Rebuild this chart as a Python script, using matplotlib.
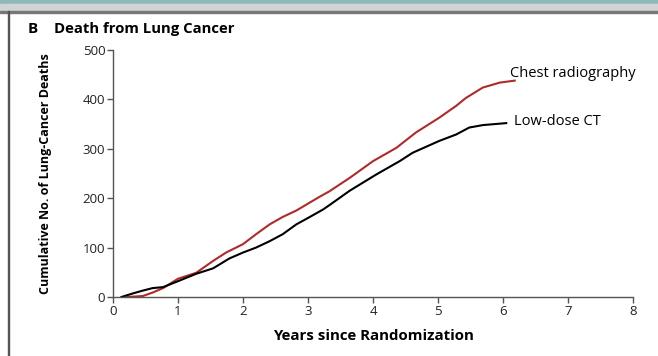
import matplotlib
matplotlib.use("Agg")
import matplotlib.pyplot as plt
from matplotlib.patches import Rectangle

# data
years_ct = [0.13, 0.30, 0.46, 0.61, 0.77, 1.00, 1.28, 1.54, 1.79, 2.00, 2.20, 2.41,
            2.61, 2.82, 3.00, 3.23, 3.33, 3.64, 4.05, 4.41, 4.61, 5.02, 5.28, 5.48,
            5.69, 6.05]
deaths_ct = [0, 7, 13, 18, 20, 32, 47, 58, 78, 90, 100, 113,
             127, 147, 160, 177, 186, 215, 248, 275, 292, 316, 329, 343,
             348, 352]

years_cxr = [0.22, 0.46, 0.61, 0.77, 1.00, 1.28, 1.54, 1.74, 2.00, 2.20, 2.41, 2.61,
             2.82, 3.00, 3.18, 3.33, 3.64, 4.00, 4.36, 4.66, 5.02, 5.28, 5.43, 5.69,
             5.95, 6.18]
deaths_cxr = [0, 2, 9, 18, 37, 49, 73, 90, 107, 127, 147, 162,
              175, 189, 203, 214, 241, 275, 302, 333, 363, 387, 403, 424,
              434, 438]

xticks = [0, 1, 2, 3, 4, 5, 6, 7, 8]
yticks = [0, 100, 200, 300, 400, 500]

plt.rcParams['font.family'] = ['Open Sans', 'DejaVu Sans']

fig = plt.figure(figsize=(6.58, 3.56), dpi=100)

# slide frame bits
fig.patches.append(Rectangle((0, 1 - 4/356), 1, 4/356, transform=fig.transFigure,
                             color="#8fb9b9", zorder=0))
fig.patches.append(Rectangle((0, 1 - 11/356), 1, 7/356, transform=fig.transFigure,
                             color="#d0d4d4", zorder=0))
fig.patches.append(Rectangle((0, 1 - 13/356), 1, 2/356, transform=fig.transFigure,
                             color="#777777", zorder=0))
fig.patches.append(Rectangle((7.5/658, 0), 1.5/658, 1 - 11/356, transform=fig.transFigure,
                             color="#555555", zorder=0))

ax = fig.add_axes([113/658, 59/356, 520/658, 247/356])

ax.plot(years_cxr, deaths_cxr, color="#b02a2a", lw=1.5)
ax.plot(years_ct, deaths_ct, color="black", lw=1.5)

ax.set_xlim(0, 8)
ax.set_ylim(0, 500)
ax.set_xticks(xticks)
ax.set_yticks(yticks)
for s in ["top", "right"]:
    ax.spines[s].set_visible(False)
for s in ["left", "bottom"]:
    ax.spines[s].set_color("#555555")
    ax.spines[s].set_linewidth(1.0)
ax.tick_params(colors="#555555", labelcolor="#222222", labelsize=9.5,
               length=4, width=1.0, pad=1.5)

ax.text(6.1, 452, "Chest radiography", fontsize=10.5, ha="left", va="center")
ax.text(6.17, 356, "Low-dose CT", fontsize=10.5, ha="left", va="center")

ax.set_xlabel("Years since Randomization", fontsize=10.8, fontweight="bold", labelpad=8)
ax.set_ylabel("Cumulative No. of Lung-Cancer Deaths", fontsize=9,
              fontweight="bold", labelpad=22)

fig.text(28/658, 1 - 29/356, "B", fontsize=11, fontweight="bold", va="center")
fig.text(54/658, 1 - 29/356, "Death from Lung Cancer", fontsize=10.7,
         fontweight="bold", va="center")

fig.savefig("out.png", dpi=100)
